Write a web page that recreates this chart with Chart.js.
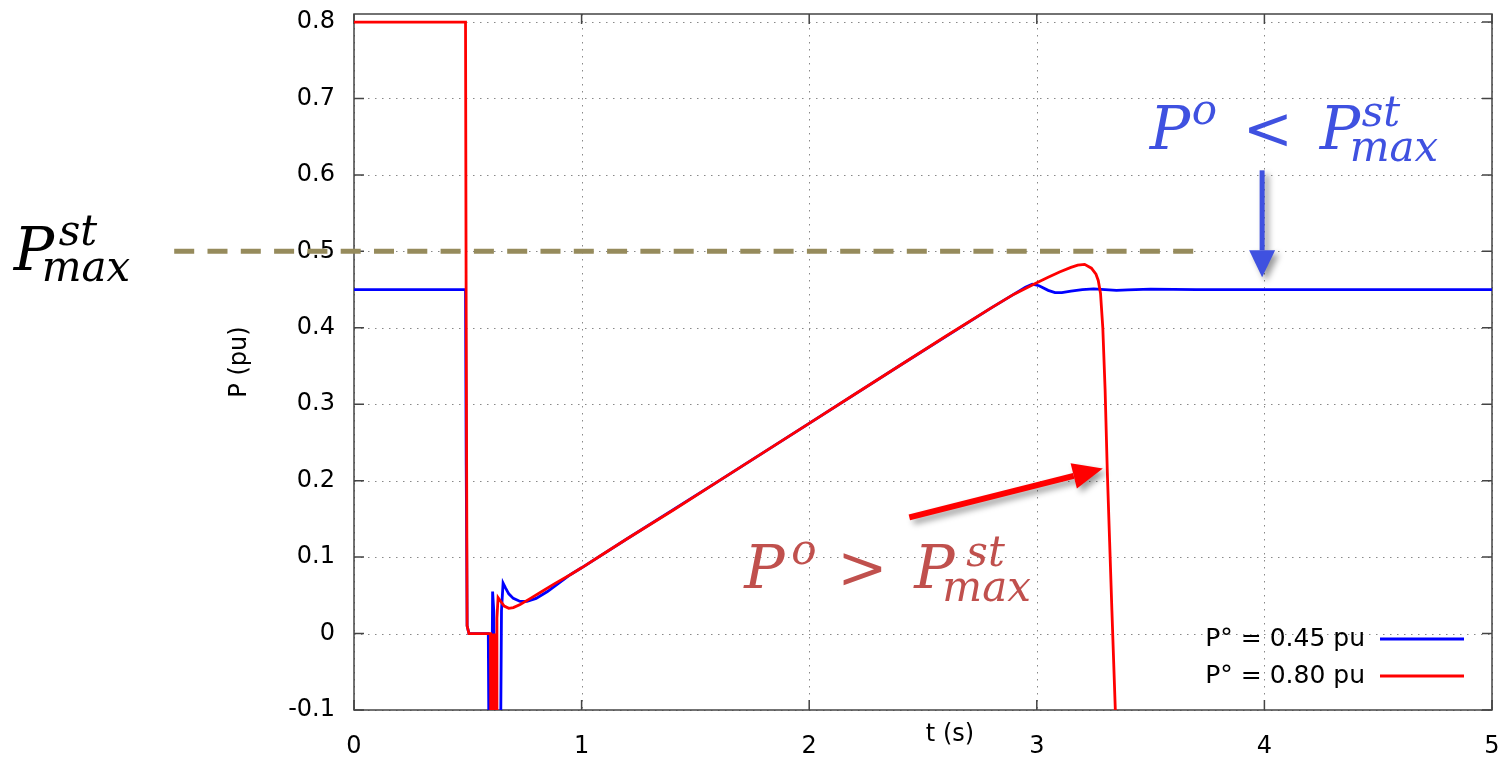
<!DOCTYPE html>
<html>
<head>
<meta charset="utf-8">
<script src="https://cdn.jsdelivr.net/npm/chart.js@4.4.0/dist/chart.umd.min.js"></script>
<style>
  html, body { margin: 0; padding: 0; background: #fff; overflow: hidden; }
  #wrap { width: 1506px; height: 758px; position: relative; }
</style>
</head>
<body>
<div id="wrap"><canvas id="pChart"></canvas></div>
<script>
// tick values
const xTicks = [0, 1, 2, 3, 4, 5];
const yTicks = [-0.1, 0, 0.1, 0.2, 0.3, 0.4, 0.5, 0.6, 0.7, 0.8];

// P° = 0.45 pu
const tBlue = [0, 0.49, 0.493, 0.497, 0.505, 0.55, 0.59, 0.598, 0.609, 0.614, 0.628, 0.638, 0.648, 0.655, 0.665, 0.68, 0.7, 0.73, 0.76, 0.8, 0.85, 0.9, 0.95, 1.0, 1.2, 1.6, 2.0, 2.4, 2.8, 2.9, 2.95, 2.98, 3.01, 3.05, 3.08, 3.11, 3.15, 3.2, 3.25, 3.3, 3.35, 3.4, 3.5, 3.7, 4.0, 4.5, 5.0];
const pBlue = [0.45, 0.45, 0.22, 0.01, 0.0, 0.0, 0.0, -0.4, 0.055, 0.03, -0.4, -0.4, 0.03, 0.066, 0.06, 0.052, 0.046, 0.042, 0.042, 0.046, 0.055, 0.066, 0.077, 0.086, 0.124, 0.199, 0.275, 0.351, 0.426, 0.444, 0.453, 0.457, 0.455, 0.449, 0.446, 0.446, 0.448, 0.45, 0.451, 0.45, 0.449, 0.4495, 0.4505, 0.45, 0.45, 0.45, 0.45];

// P° = 0.80 pu
const tRed = [0, 0.49, 0.493, 0.497, 0.505, 0.55, 0.6, 0.603, 0.606, 0.609, 0.612, 0.615, 0.618, 0.621, 0.624, 0.628, 0.633, 0.645, 0.66, 0.68, 0.7, 0.73, 0.77, 0.82, 0.88, 0.95, 1.0, 1.1, 1.2, 1.4, 1.6, 1.8, 2.0, 2.2, 2.4, 2.6, 2.8, 2.9, 3.0, 3.05, 3.1, 3.15, 3.18, 3.21, 3.24, 3.26, 3.27, 3.28, 3.29, 3.3, 3.31, 3.32, 3.33, 3.345, 3.36];
const pRed = [0.8, 0.8, 0.4, 0.01, 0.0, 0.0, 0.0, -0.4, 0.0, -0.4, 0.0, -0.4, 0.0, -0.4, -0.3, 0.02, 0.047, 0.042, 0.036, 0.033, 0.034, 0.038, 0.045, 0.054, 0.065, 0.077, 0.086, 0.105, 0.124, 0.161, 0.199, 0.237, 0.275, 0.313, 0.351, 0.389, 0.426, 0.444, 0.459, 0.466, 0.473, 0.479, 0.482, 0.483, 0.478, 0.47, 0.462, 0.445, 0.4, 0.32, 0.21, 0.12, 0.03, -0.1, -0.22];

const legendLabels = ['P° = 0.45 pu', 'P° = 0.80 pu'];
const seriesColors = ['#0000ff', '#ff0000'];

// annotations (data coordinates)
const pmaxLevel = 0.5;
const pmaxLineT = [-0.79, 3.70];
const blueArrowT = [3.99, 3.99];
const blueArrowP = [0.606, 0.466];
const redArrowT = [2.44, 3.29];
const redArrowP = [0.152, 0.216];
const leftLabelAt = [-1.495, 0.475];
const blueLabelAt = [3.496, 0.634];
const redLabelAt = [1.715, 0.060];

function toPoints(ts, ps) {
    return ts.map(function(t, i) { return { x: t, y: ps[i] }; });
}

function drawArrow(ctx, x1, y1, x2, y2, color, shaftW, headLen, headHalf) {
    const ang = Math.atan2(y2 - y1, x2 - x1);
    const bx = x2 - Math.cos(ang) * headLen;
    const by = y2 - Math.sin(ang) * headLen;
    ctx.save();
    ctx.shadowColor = 'rgba(0,0,0,0.4)';
    ctx.shadowBlur = 6;
    ctx.shadowOffsetX = 4;
    ctx.shadowOffsetY = 4;
    ctx.strokeStyle = color;
    ctx.fillStyle = color;
    ctx.lineWidth = shaftW;
    ctx.beginPath();
    ctx.moveTo(x1, y1);
    ctx.lineTo(bx, by);
    ctx.stroke();
    ctx.beginPath();
    ctx.moveTo(x2, y2);
    ctx.lineTo(bx + Math.sin(ang) * headHalf, by - Math.cos(ang) * headHalf);
    ctx.lineTo(bx - Math.sin(ang) * headHalf, by + Math.cos(ang) * headHalf);
    ctx.closePath();
    ctx.fill();
    ctx.restore();
}

function drawMath(ctx, x, y, parts, color) {
    ctx.save();
    ctx.fillStyle = color;
    ctx.textAlign = 'left';
    ctx.textBaseline = 'alphabetic';
    parts.forEach(function(p) {
        ctx.font = (p[4] || 'italic') + ' ' + p[3] + 'px "DejaVu Serif"';
        ctx.fillText(p[0], x + p[1], y + p[2]);
    });
    ctx.restore();
}

const framePlugin = {
    id: 'frame',
    beforeDatasetsDraw(chart) {
        const ctx = chart.ctx;
        const a = chart.chartArea;
        const xs = chart.scales.x, ys = chart.scales.y;
        ctx.save();
        ctx.strokeStyle = '#888';
        ctx.lineWidth = 1;
        ctx.setLineDash([1.5, 5.5]);
        xTicks.forEach(function(v) {
            const px = Math.round(xs.getPixelForValue(v)) + 0.5;
            ctx.beginPath(); ctx.moveTo(px, a.top); ctx.lineTo(px, a.bottom); ctx.stroke();
        });
        yTicks.forEach(function(v) {
            const py = Math.round(ys.getPixelForValue(v)) + 0.5;
            ctx.beginPath(); ctx.moveTo(a.left, py); ctx.lineTo(a.right, py); ctx.stroke();
        });
        ctx.setLineDash([]);
        ctx.strokeStyle = '#444';
        ctx.lineWidth = 1.5;
        const tl = 10;
        xTicks.forEach(function(v) {
            const px = xs.getPixelForValue(v);
            ctx.beginPath();
            ctx.moveTo(px, a.bottom); ctx.lineTo(px, a.bottom - tl);
            ctx.moveTo(px, a.top); ctx.lineTo(px, a.top + tl);
            ctx.stroke();
        });
        yTicks.forEach(function(v) {
            const py = ys.getPixelForValue(v);
            ctx.beginPath();
            ctx.moveTo(a.left, py); ctx.lineTo(a.left + tl, py);
            ctx.moveTo(a.right, py); ctx.lineTo(a.right - tl, py);
            ctx.stroke();
        });
        ctx.strokeRect(a.left, a.top, a.right - a.left, a.bottom - a.top);
        ctx.restore();
    },
    afterDatasetsDraw(chart) {
        const ctx = chart.ctx;
        const a = chart.chartArea;
        const xs = chart.scales.x, ys = chart.scales.y;
        const X = function(v) { return xs.getPixelForValue(v); };
        const Y = function(v) { return ys.getPixelForValue(v); };

        // P_max^st level
        ctx.save();
        ctx.strokeStyle = '#968b5c';
        ctx.lineWidth = 5;
        ctx.setLineDash([20, 13.3]);
        ctx.beginPath();
        ctx.moveTo(X(pmaxLineT[0]), Y(pmaxLevel));
        ctx.lineTo(X(pmaxLineT[1]), Y(pmaxLevel));
        ctx.stroke();
        ctx.restore();

        drawArrow(ctx, X(blueArrowT[0]), Y(blueArrowP[0]), X(blueArrowT[1]), Y(blueArrowP[1]), '#3f51e0', 5, 27, 13);
        drawArrow(ctx, X(redArrowT[0]), Y(redArrowP[0]), X(redArrowT[1]), Y(redArrowP[1]), '#ff0000', 6, 30, 13);

        drawMath(ctx, X(leftLabelAt[0]), Y(leftLabelAt[1]),
            [['P', 0, 0, 60], ['st', 45, -25, 42], ['max', 28, 11, 42]], '#000');
        drawMath(ctx, X(blueLabelAt[0]), Y(blueLabelAt[1]),
            [['P', 0, 0, 60], ['o', 42, -25, 42], ['<', 93, 0, 60, 'normal'], ['P', 170, 0, 60], ['st', 212, -23, 42], ['max', 200, 12, 42]], '#3f51e0');
        drawMath(ctx, X(redLabelAt[0]), Y(redLabelAt[1]),
            [['P', 0, 0, 60], ['o', 47, -24, 42], ['>', 93, 0, 60, 'normal'], ['P', 170, 0, 60], ['st', 222, -22, 42], ['max', 198, 13, 42]], '#c0504d');

        // legend, gnuplot style: text then sample line
        ctx.save();
        ctx.font = '25px "DejaVu Sans"';
        ctx.fillStyle = '#000';
        ctx.textAlign = 'right';
        ctx.textBaseline = 'middle';
        legendLabels.forEach(function(lbl, i) {
            const yy = a.bottom - 71 + i * 37;
            ctx.fillText(lbl, a.right - 127, yy);
            ctx.strokeStyle = seriesColors[i];
            ctx.lineWidth = 3;
            ctx.beginPath();
            ctx.moveTo(a.right - 112, yy);
            ctx.lineTo(a.right - 28, yy);
            ctx.stroke();
        });
        ctx.restore();

        // axis titles
        ctx.save();
        ctx.fillStyle = '#000';
        ctx.font = '24px "DejaVu Sans"';
        ctx.textAlign = 'center';
        ctx.textBaseline = 'middle';
        ctx.fillText('t (s)', 950, a.bottom + 25);
        ctx.translate(240, (a.top + a.bottom) / 2);
        ctx.rotate(-Math.PI / 2);
        ctx.fillText('P (pu)', 0, 0);
        ctx.restore();
    }
};

const ctx = document.getElementById('pChart').getContext('2d');
new Chart(ctx, {
    type: 'line',
    data: {
        datasets: [
            {
                label: legendLabels[1],
                data: toPoints(tRed, pRed),
                borderColor: seriesColors[1],
                borderWidth: 2.8,
                pointRadius: 0,
                tension: 0,
                fill: false
            },
            {
                label: legendLabels[0],
                data: toPoints(tBlue, pBlue),
                borderColor: seriesColors[0],
                borderWidth: 2.8,
                pointRadius: 0,
                tension: 0,
                fill: false
            }
        ]
    },
    options: {
        responsive: true,
        maintainAspectRatio: false,
        animation: false,
        events: [],
        layout: { padding: { top: 14, right: 14, left: 0, bottom: 0 } },
        plugins: {
            legend: { display: false },
            tooltip: { enabled: false }
        },
        scales: {
            x: {
                type: 'linear',
                min: 0,
                max: 5,
                afterFit: function(scale) {
                    scale.height = 48;
                    scale.paddingLeft = 0;
                    scale.paddingRight = 0;
                },
                afterBuildTicks: function(scale) { scale.ticks = xTicks.map(function(v) { return { value: v }; }); },
                grid: { display: false, drawTicks: false },
                border: { display: false },
                ticks: {
                    padding: 22,
                    color: '#000',
                    font: { family: 'DejaVu Sans', size: 24 },
                    maxRotation: 0,
                    callback: function(v) { return String(v); }
                }
            },
            y: {
                type: 'linear',
                min: -0.1,
                max: 0.8105,
                afterFit: function(scale) {
                    scale.width = 354;
                    scale.paddingTop = 0;
                    scale.paddingBottom = 0;
                },
                afterBuildTicks: function(scale) { scale.ticks = yTicks.map(function(v) { return { value: v }; }); },
                grid: { display: false, drawTicks: false },
                border: { display: false },
                ticks: {
                    padding: 19,
                    color: '#000',
                    font: { family: 'DejaVu Sans', size: 24 },
                    callback: function(v) { return String(Math.round(v * 10) / 10); }
                }
            }
        }
    },
    plugins: [framePlugin]
});
</script>
</body>
</html>
